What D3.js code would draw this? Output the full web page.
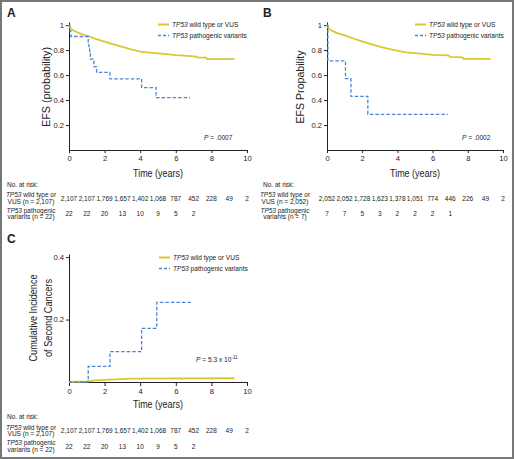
<!DOCTYPE html>
<html><head><meta charset="utf-8">
<script src="https://cdn.jsdelivr.net/npm/d3@7"></script>
<style>
html,body{margin:0;padding:0;background:#fff;}
svg{display:block;font-family:"Liberation Sans",Arial,sans-serif;}
</style></head>
<body>
<script>
// ---------- DATA ----------
const xTicks = [0, 2, 4, 6, 8, 10];
const riskYears = [0, 1, 2, 3, 4, 5, 6, 7, 8, 9, 10];
const efsTicks = [0.2, 0.4, 0.6, 0.8, 1];
const cumTicks = [0.2, 0.4];

// Panel A (EFS)
const aWildT = [0, 0.05, 0.2, 0.5, 1, 1.5, 2, 2.5, 3, 3.5, 4, 4.5, 5, 5.5, 6, 6.5, 7, 7.15, 7.2, 7.7, 7.75, 9.3];
const aWildS = [1, 0.98, 0.96, 0.94, 0.915, 0.89, 0.867, 0.845, 0.825, 0.805, 0.787, 0.78, 0.773, 0.767, 0.76, 0.755, 0.75, 0.748, 0.741, 0.739, 0.727, 0.727];
const aPathT = [0, 0.05, 0.1, 1.08, 1.12, 1.16, 1.2, 1.4, 1.55, 2.3, 4.08, 4.89, 6.8];
const aPathS = [1, 0.955, 0.909, 0.864, 0.818, 0.773, 0.727, 0.667, 0.622, 0.57, 0.5, 0.42, 0.42];
const aRiskWild = ["2,107", "2,107", "1,769", "1,657", "1,402", "1,068", "787", "452", "228", "49", "2"];
const aRiskPath = ["22", "22", "20", "13", "10", "9", "5", "2"];

// Panel B (EFS)
const bWildT = [0, 0.05, 0.2, 0.5, 1, 1.5, 2, 2.5, 3, 3.5, 4, 4.5, 5, 5.5, 6, 6.9, 7.0, 7.7, 7.75, 9.3];
const bWildS = [1, 0.98, 0.96, 0.94, 0.918, 0.893, 0.87, 0.848, 0.828, 0.81, 0.795, 0.782, 0.775, 0.77, 0.762, 0.757, 0.745, 0.742, 0.73, 0.73];
const bPathT = [0, 0.05, 1.05, 1.36, 2.32, 6.87];
const bPathS = [1, 0.714, 0.571, 0.429, 0.286, 0.286];
const bRiskWild = ["2,052", "2,052", "1,728", "1,623", "1,378", "1,051", "774", "446", "226", "49", "2"];
const bRiskPath = ["7", "7", "5", "3", "2", "2", "2", "1"];

// Panel C (cumulative incidence of second cancers)
const cWildT = [0, 1, 1.5, 2, 3.5, 9.3];
const cWildS = [0, 0.002, 0.005, 0.007, 0.011, 0.012];
const cPathT = [0, 1.08, 2.3, 4.08, 4.93, 6.95];
const cPathS = [0, 0.05, 0.097, 0.172, 0.255, 0.255];
const cRiskWild = aRiskWild;
const cRiskPath = aRiskPath;

const YELLOW = "#d9c832";
const BLUE = "#4a84d6";
const INK = "#222";

// ---------- DRAW ----------
const svg = d3.select("body").append("svg").attr("width", 515).attr("height", 459);

svg.append("rect").attr("x", 1).attr("y", 1).attr("width", 512).attr("height", 457)
  .attr("fill", "none").attr("stroke", "#777").attr("stroke-width", 2);

function zip(t, s) { return t.map((v, i) => [v, s[i]]); }

function panel(cfg) {
  const g = svg.append("g");
  const x = d3.scaleLinear().domain([0, 10]).range(cfg.xr);
  const y = d3.scaleLinear().domain(cfg.yd).range(cfg.yr);

  // axes
  const ya = g.append("g").attr("transform", `translate(${cfg.xr[0]},0)`)
    .call(d3.axisLeft(y).tickValues(cfg.yTicks).tickFormat(d => d === 1 ? "1" : d3.format(".1f")(d))
      .tickSize(3).tickSizeOuter(0).tickPadding(2));
  const xa = g.append("g").attr("transform", `translate(0,${cfg.yr[0]})`)
    .call(d3.axisBottom(x).tickValues(xTicks).tickSize(cfg.xTickSize).tickSizeOuter(0).tickPadding(cfg.xPad));
  [ya, xa].forEach(a => {
    a.selectAll("path,line").attr("stroke", INK).attr("stroke-width", 1);
    a.selectAll("text").attr("fill", INK).style("font-size", "7.6px");
  });

  // curves
  g.append("path").datum(zip(cfg.wildT, cfg.wildS))
    .attr("d", d3.line().x(d => x(d[0])).y(d => y(d[1])).curve(d3.curveLinear))
    .attr("fill", "none").attr("stroke", YELLOW).attr("stroke-width", 1.8);
  g.append("path").datum(zip(cfg.pathT, cfg.pathS))
    .attr("d", d3.line().x(d => x(d[0])).y(d => y(d[1])).curve(d3.curveStepAfter))
    .attr("fill", "none").attr("stroke", BLUE).attr("stroke-width", 1.3)
    .attr("stroke-dasharray", "3.5,2");

  // legend
  const lx = cfg.legX, ly = cfg.legY;
  g.append("line").attr("x1", lx).attr("x2", lx + 11).attr("y1", ly).attr("y2", ly)
    .attr("stroke", YELLOW).attr("stroke-width", 2);
  g.append("line").attr("x1", lx).attr("x2", lx + 11).attr("y1", ly + 11).attr("y2", ly + 11)
    .attr("stroke", BLUE).attr("stroke-width", 1.3).attr("stroke-dasharray", "3,2");
  const legTxt = (yy, rest) => {
    const t = g.append("text").attr("x", lx + 14).attr("y", yy + 2.3)
      .style("font-size", "6.6px").attr("fill", INK);
    t.append("tspan").style("font-style", "italic").text("TP53");
    t.append("tspan").text(rest);
  };
  legTxt(ly, " wild type or VUS");
  legTxt(ly + 11, " pathogenic variants");

  // p value
  const pt = g.append("text").attr("x", cfg.pX).attr("y", cfg.pY)
    .style("font-size", "6.6px").attr("fill", INK);
  pt.append("tspan").style("font-style", "italic").text("P");
  pt.append("tspan").text(cfg.pText);
  if (cfg.pSup) pt.append("tspan").attr("dy", -3).style("font-size", "4.5px").text(cfg.pSup);

  // axis titles (condensed face, like the original)
  const xm = (cfg.xr[0] + cfg.xr[1]) / 2;
  g.append("text").attr("x", xm).attr("y", cfg.xTitleY).attr("text-anchor", "middle")
    .attr("textLength", 50).attr("lengthAdjust", "spacingAndGlyphs")
    .style("font-size", "10.8px").attr("fill", INK).text("Time (years)");
  cfg.yTitle.forEach((tt, i) => {
    g.append("text").attr("transform", `translate(${cfg.yTitleX[i]},${cfg.yTitleCY}) rotate(-90)`)
      .attr("text-anchor", "middle").attr("textLength", cfg.yTitleLen[i]).attr("lengthAdjust", "spacingAndGlyphs")
      .style("font-size", "10.8px").attr("fill", INK).text(tt);
  });

  // panel letter
  g.append("text").attr("x", cfg.letX).attr("y", cfg.letY).text(cfg.letter)
    .style("font-size", "12px").style("font-weight", "bold").attr("fill", INK);

  // risk table
  const rt = cfg.riskY;
  const fs = "6.5px";
  g.append("text").attr("x", cfg.letX).attr("y", rt).text("No. at risk:")
    .style("font-size", fs).attr("fill", INK);
  const lab = (yy, italic, rest) => {
    const t = g.append("text").attr("x", cfg.labCX).attr("y", yy).attr("text-anchor", "middle")
      .style("font-size", fs).attr("fill", INK);
    if (italic) t.append("tspan").style("font-style", "italic").text(italic);
    t.append("tspan").text(rest);
  };
  lab(rt + 10.5, "TP53", " wild type or");
  lab(rt + 17, null, cfg.wildN);
  lab(rt + 26, "TP53", " pathogenic");
  lab(rt + 32.5, null, cfg.pathN);
  g.append("g").selectAll("text").data(cfg.riskWild).join("text")
    .attr("x", (d, i) => x(riskYears[i])).attr("y", rt + 14).attr("text-anchor", "middle")
    .style("font-size", fs).attr("fill", INK).text(d => d);
  g.append("g").selectAll("text").data(cfg.riskPath).join("text")
    .attr("x", (d, i) => x(riskYears[i])).attr("y", rt + 29.5).attr("text-anchor", "middle")
    .style("font-size", fs).attr("fill", INK).text(d => d);
}

panel({
  letter: "A", letX: 7, letY: 17,
  xr: [69, 247], yd: [0, 1.025], yr: [150, 22], yTicks: efsTicks,
  xTickSize: 3, xPad: 3,
  wildT: aWildT, wildS: aWildS, pathT: aPathT, pathS: aPathS,
  legX: 158, legY: 24.5, pX: 204, pY: 140, pText: " = .0007",
  xTitleY: 176.5, yTitle: ["EFS (probability)"], yTitleX: [50], yTitleCY: 87, yTitleLen: [80],
  riskY: 186.5, labCX: 31, wildN: "VUS (n = 2,107)", pathN: "variants (n = 22)",
  riskWild: aRiskWild, riskPath: aRiskPath
});
panel({
  letter: "B", letX: 263, letY: 17,
  xr: [327, 503], yd: [0, 1.025], yr: [150, 22], yTicks: efsTicks,
  xTickSize: 3, xPad: 3,
  wildT: bWildT, wildS: bWildS, pathT: bPathT, pathS: bPathS,
  legX: 415, legY: 24.5, pX: 462, pY: 140, pText: " = .0002",
  xTitleY: 176.5, yTitle: ["EFS Propability"], yTitleX: [304], yTitleCY: 87, yTitleLen: [73],
  riskY: 186.5, labCX: 285, wildN: "VUS (n = 2,052)", pathN: "variants (n = 7)",
  riskWild: bRiskWild, riskPath: bRiskPath
});
panel({
  letter: "C", letX: 7, letY: 243,
  xr: [69, 247], yd: [0, 0.41], yr: [382, 254], yTicks: cumTicks,
  xTickSize: 4, xPad: 3,
  wildT: cWildT, wildS: cWildS, pathT: cPathT, pathS: cPathS,
  legX: 159, legY: 257.5, pX: 196, pY: 362, pText: " = 5.3 x 10", pSup: "-11",
  xTitleY: 408, yTitle: ["Cumulative Incidence", "of Second Cancers"], yTitleX: [37, 51.5], yTitleCY: 318, yTitleLen: [87, 78],
  riskY: 419, labCX: 31, wildN: "VUS (n = 2,107)", pathN: "variants (n = 22)",
  riskWild: cRiskWild, riskPath: cRiskPath
});
</script>
</body></html>
